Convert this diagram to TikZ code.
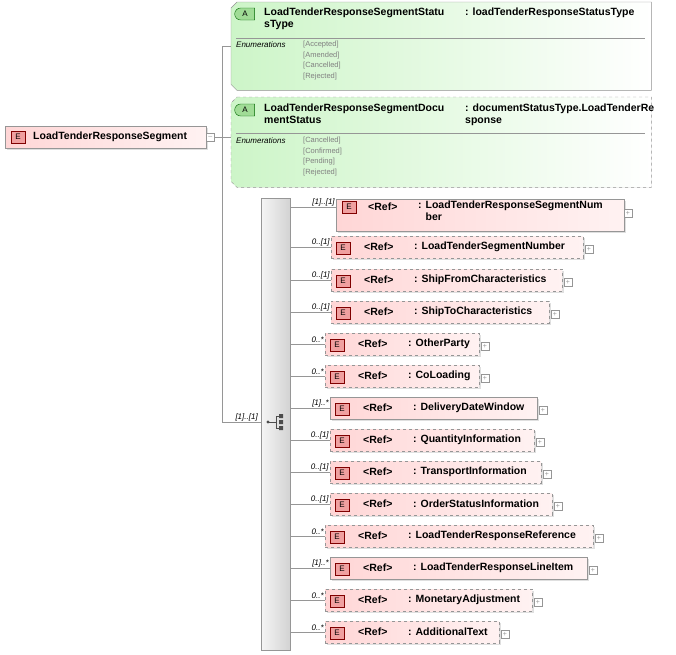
\documentclass[tikz,border=0pt]{standalone}
\usepackage{fontspec}
\setmainfont{Liberation Sans}
\usetikzlibrary{shapes.misc,shadows}
\definecolor{elpink}{RGB}{255,214,214}
\definecolor{elpale}{RGB}{255,242,242}
\definecolor{attgreen}{RGB}{205,245,200}
\definecolor{iconred}{RGB}{240,160,160}
\definecolor{icongreen}{RGB}{160,220,150}
\definecolor{linegray}{RGB}{150,150,150}
\newcommand{\chamferbox}[2]{%
    \fill[black, opacity=0.2, xshift=2pt, yshift=-2pt] ([xshift=6pt]#1.north west) -- (#1.north east) -- (#1.south east) -- ([xshift=6pt]#1.south west) -- ([yshift=6pt]#1.south west) -- ([yshift=-6pt]#1.north west) -- cycle;
    \path[draw=linegray, left color=attgreen, right color=white, #2] ([xshift=6pt]#1.north west) -- (#1.north east) -- (#1.south east) -- ([xshift=6pt]#1.south west) -- ([yshift=6pt]#1.south west) -- ([yshift=-6pt]#1.north west) -- cycle;}
\begin{document}
\begin{tikzpicture}[x=1pt,y=-1pt,
        elem/.style={rectangle, draw=linegray, left color=elpink, right color=elpale, minimum height=22pt, inner sep=0pt, drop shadow={opacity=0.25, shadow xshift=2pt, shadow yshift=-2pt}},
        attr/.style={rectangle, inner sep=0pt},
        eicon/.style={rectangle, draw=red!50!black, fill=iconred, minimum width=14pt, minimum height=12pt, inner sep=0pt, font=\fontsize{8}{8}\selectfont},
        aicon/.style={rounded rectangle, rounded rectangle right arc=none, draw=green!40!black, fill=icongreen, minimum width=20pt, minimum height=12pt, inner sep=0pt, font=\fontsize{8}{8}\selectfont},
        plusbox/.style={rectangle, draw=linegray, fill=white, minimum size=8pt, inner sep=0pt, font=\fontsize{7}{7}\selectfont, text=linegray},
        conn/.style={draw=linegray, line width=0.6pt},
        lbl/.style={font=\bfseries\fontsize{10.5}{12}\selectfont, anchor=west, inner sep=0pt, align=left},
        mult/.style={font=\itshape\fontsize{8}{8}\selectfont, anchor=south east, inner sep=1pt},
        enum/.style={font=\fontsize{7.5}{10.5}\selectfont, text=gray, anchor=north west, inner sep=0pt, align=left},
        enumlab/.style={font=\itshape\fontsize{8}{8}\selectfont, anchor=north west, inner sep=0pt}
    ]
        \useasboundingbox (0,0) rectangle (676,654);

        % Root element
        \node[elem, minimum width=201pt, anchor=west] (root) at (5,137) {};
        \node[eicon] (rooticon) at (18,137) {E};
        \node[lbl] (rootname) at (33,137) {LoadTenderResponseSegment};
        \node[plusbox, anchor=west] (minus) at (206,137) {--};

        % Attributes
        \node[attr, minimum width=420pt, minimum height=88pt, anchor=north west] (attA) at (231,2) {};
        \chamferbox{attA}{}
        \node[aicon] (attAicon) at (245,14) {A};
        \node[lbl, anchor=north west] (attAname) at (264,8) {LoadTenderResponseSegmentStatu\\sType};
        \node[lbl, anchor=north west] (attAtype) at (465,8) {: loadTenderResponseStatusType};
        \draw[linegray] (236,38) -- (645,38);
        \node[enumlab] (attAlab) at (236,41) {Enumerations};
        \node[enum] (attAenum) at (303,41) {[Accepted]\\{}[Amended]\\{}[Cancelled]\\{}[Rejected]};

        \node[attr, minimum width=420pt, minimum height=90pt, anchor=north west] (attB) at (231,97) {};
        \chamferbox{attB}{dashed}
        \node[aicon] (attBicon) at (245,110) {A};
        \node[lbl, anchor=north west] (attBname) at (264,104) {LoadTenderResponseSegmentDocu\\mentStatus};
        \node[lbl, anchor=north west] (attBtype) at (465,104) {: documentStatusType.LoadTenderRe\\sponse};
        \draw[linegray] (236,133) -- (645,133);
        \node[enumlab] (attBlab) at (236,137) {Enumerations};
        \node[enum] (attBenum) at (303,137) {[Cancelled]\\{}[Confirmed]\\{}[Pending]\\{}[Rejected]};

        % Sequence
        \node[rectangle, draw=linegray, left color=gray!8, right color=gray!35, minimum width=29pt, minimum height=452pt, inner sep=0pt, anchor=north west] (seq) at (261,198) {};
        \fill[black!70] (268,422) circle (1.6pt);
        \draw[black!70, line width=0.8pt] (268,422) -- (276,422) (276,416) -- (276,428) (276,416) -- (280,416) (276,428) -- (280,428);
        \fill[black!70] (279,414) rectangle (283,418) (279,420) rectangle (283,424) (279,426) rectangle (283,430);

        \coordinate (jtop) at (222,46);
        \coordinate (jmid) at (222,137);
        \coordinate (jbot) at (222,422);
        \draw[conn] (minus) -- (jmid);
        \draw[conn] (jtop) -- (jbot);
        \draw[conn] (jtop) -- (jtop -| attA.west);
        \draw[conn] (jmid) -- (jmid -| attB.west);
        \draw[conn] (jbot) -- (jbot -| seq.west) node[mult, pos=0.95] {[1]..[1]};

        % First child (two lines)
        \node[elem, minimum width=288pt, minimum height=32pt, anchor=west] (e0) at (336,215) {};
        \node[eicon] (e0icon) at (349,207) {E};
        \node[lbl] (e0ref) at (368,207) {<Ref>};
        \node[lbl, anchor=north west] (e0name) at (418,201) {: LoadTenderResponseSegmentNum\\\hphantom{: }ber};
        \node[plusbox] (e0plus) at (628,213) {+};
        \draw[conn] (seq.east |- e0icon) -- (e0icon -| e0.west) node[mult] {[1]..[1]};

        % Other children
        \foreach \y/\l/\r/\m/\n/\s [count=\i] in {
            247/331/583/{0..[1]}/LoadTenderSegmentNumber/dashed,
            280/331/562/{0..[1]}/ShipFromCharacteristics/dashed,
            312/331/549/{0..[1]}/ShipToCharacteristics/dashed,
            344/325/479/{0..*}/OtherParty/dashed,
            376/325/479/{0..*}/CoLoading/dashed,
            408/330/537/{[1]..*}/DeliveryDateWindow/solid,
            440/330/534/{0..[1]}/QuantityInformation/dashed,
            472/330/541/{0..[1]}/TransportInformation/dashed,
            504/330/552/{0..[1]}/OrderStatusInformation/dashed,
            536/325/593/{0..*}/LoadTenderResponseReference/dashed,
            568/330/587/{[1]..*}/LoadTenderResponseLineItem/solid,
            600/325/532/{0..*}/MonetaryAdjustment/dashed,
            632/325/499/{0..*}/AdditionalText/dashed} {
            \pgfmathsetmacro{\w}{\r-\l}
            \node[elem, \s, minimum width=\w pt, anchor=west] (e\i) at (\l,\y) {};
            \node[eicon] (e\i icon) at (\l+12,\y+1) {E};
            \node[lbl] (e\i ref) at (\l+33,\y) {<Ref>};
            \node[lbl] (e\i name) at (\l+83,\y) {: \n};
            \node[plusbox] (e\i plus) at (\r+6,\y+2) {+};
            \draw[conn] (seq.east |- e\i.west) -- (e\i.west) node[mult] {\m};
        }

    \end{tikzpicture}
\end{document}
